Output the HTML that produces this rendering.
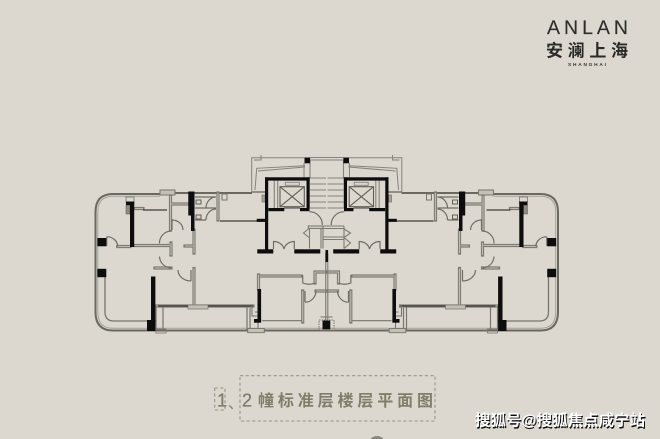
<!DOCTYPE html>
<html><head><meta charset="utf-8">
<style>
html,body{margin:0;padding:0;background:#dcd8cf}
svg{display:block}
text{font-family:"Liberation Sans","Noto Sans CJK SC",sans-serif}
</style></head>
<body>
<svg width="660" height="439" viewBox="0 0 660 439" xmlns="http://www.w3.org/2000/svg">
<defs>
<filter id="b" x="-5%" y="-5%" width="110%" height="110%"><feGaussianBlur stdDeviation="0.3"/></filter>
<g id="half">
  <!-- outer walls -->
  <path d="M327 330.5H113Q95.5 330.5 95.5 312V212Q95.5 194 113 194H160M175 193H252" fill="none" stroke="#6b6960" stroke-width="2"/>
  <path d="M327 328.3H113Q97.8 328.3 97.8 312V212Q97.8 196.3 113 196.3H160" fill="none" stroke="#a5a299" stroke-width="1"/>
  <path d="M252 192H266" stroke="#77756c" stroke-width="1.5"/>
  <path d="M105 277V312Q105 321 114 321H147" fill="none" stroke="#77756c" stroke-width="1.3"/>
  <rect x="160" y="190" width="15" height="5" fill="#c4c0b7" stroke="#77756c" stroke-width="1"/>
  <rect x="156" y="329" width="10" height="4" fill="none" stroke="#77756c" stroke-width=".8"/>
  <!-- interior double walls -->
  <g fill="none" stroke="#7d7b72" stroke-width="3.2" stroke-linecap="square">
    <path d="M170.5 196V230M171 243V255M171 268H155M134 245.5H170M117.7 246.5H130M194 230V253M194 268.5V305M185 246H193M171 204H188M135 208.5H143M218 193V220M258.5 275V289M260 276H301M315 272V283M315 272H326M316 291H326M302.7 291V322M156 306H253"/>
  </g>
  <g fill="none" stroke="#bfbbb2" stroke-width="1.1" stroke-linecap="butt">
    <path d="M170.5 196V230M171 243V255M171 268H155M134 245.5H170M117.7 246.5H130M194 230V253M194 268.5V305M185 246H193M171 204H188M135 208.5H143M218 193V220M258.5 275V289M260 276H301M315 272V283M315 272H326M316 291H326M302.7 291V322M156 306H253"/>
  </g>
  <rect x="188" y="305" width="20" height="4" fill="#c4c0b7" stroke="#7d7b72" stroke-width=".8"/>
  <!-- dark thin glazing -->
  <path d="M143 210H167M220 221H257M158 306H188M208 306H253" stroke="#3f3d38" stroke-width="1.3" fill="none"/>
  <path d="M262 320.7H302M163 307V330M247 307V330M156 306V330M250 308V328" stroke="#77756c" stroke-width="1.2" fill="none"/>
  <rect x="247.7" y="328.5" width="16.6" height="4.2" fill="#c4c0b7" stroke="#77756c" stroke-width=".9"/>
  <path d="M252 306V316H258V328M255 312H258" fill="none" stroke="#77756c" stroke-width="1.1"/>
  <!-- door arcs -->
  <g fill="none" stroke="#6f6d64" stroke-width="1.2">
    <path d="M106.7 237V246M106.7 236.7A11 10 0 0 1 117.7 246M171 231A12 12 0 0 0 159.5 243.5M159.5 256.5A12 12 0 0 0 171 268M172 219V230M172 220A11 10 0 0 1 183 230M191 281A13 11 0 0 1 178 270M191 270V281"/>
    <path d="M216 197A10 11 0 0 0 206 208M216 209A10 11 0 0 0 206 220M195 208H216M195 220H206M195 197H216"/>
    <path d="M302.7 275V283A12 8 0 0 0 315 283M305 302.3A11 11.6 0 0 0 316 291M305 291V302"/>
    <path d="M273.5 249V241.5A10.5 9 0 0 1 284 249M294.3 249V241.5A10.5 9 0 0 0 284 249"/>
    <path d="M309.3 211.7A13 13 0 0 1 322.3 225"/>
  </g>
  <rect x="222" y="194" width="5" height="6" fill="none" stroke="#77756c" stroke-width="1"/>
  <rect x="262" y="195" width="3" height="7" fill="#a5a299" stroke="#77756c" stroke-width=".7"/>
  <rect x="196" y="200" width="5" height="4" fill="none" stroke="#55534c" stroke-width=".9"/>
  <rect x="196" y="215" width="5" height="4" fill="none" stroke="#55534c" stroke-width=".9"/>
  <rect x="126" y="197" width="8" height="5" fill="none" stroke="#77756c" stroke-width=".8"/>
  <rect x="126" y="205" width="4" height="9" fill="#8d8b82" stroke="#55534c" stroke-width=".5"/>
  <rect x="189" y="206" width="4" height="9" fill="#8d8b82"/>
  <!-- canopy -->
  <g fill="none" stroke="#85837a" stroke-width="1">
    <path d="M304.7 157.7H251.7V192M255 190L256.7 168.3L305 165.7M254 160H261V155M258 171L305 167"/>
    <path d="M304 163V178"/>
  </g>
  <!-- stair -->
  <g stroke="#85837a" stroke-width="1.1" fill="none">
    <path d="M310 157.5H327M310 160H327M310 160V178"/>
    <path d="M310 178H326M310 184H326M310 190H326M310 196H326M310 202H326M310 208H326"/>
  </g>
  <!-- elevator -->
  <g fill="none" stroke="#5f5d55" stroke-width="1.1">
    <rect x="280" y="186.7" width="24.3" height="20"/>
    <path d="M280 186.7L304.3 206.7M304.3 186.7L280 206.7"/>
    <path d="M274.3 180V208M277.7 180V208" stroke="#85837a"/>
    <rect x="285.3" y="182.3" width="14" height="3" stroke="#85837a" stroke-width=".9"/>
    <path d="M284 208H300" stroke-width="1.3"/>
  </g>
  <!-- black walls -->
  <g fill="#0d0d0d">
    <rect x="97.3" y="238" width="9" height="8.3"/>
    <rect x="97.3" y="268.8" width="9" height="8.4"/>
    <rect x="130" y="201.5" width="4.2" height="45.5"/>
    <rect x="126" y="201.5" width="8.2" height="3.6"/>
    <rect x="188.3" y="191.5" width="6.2" height="24"/>
    <rect x="191" y="215" width="3.5" height="16"/>
    <rect x="151" y="276.5" width="4.4" height="45.5"/>
    <rect x="147" y="320" width="8.4" height="11"/>
    <rect x="257.5" y="289" width="3.6" height="33"/>
    <rect x="254" y="319" width="7.1" height="3.7"/>
    <rect x="265" y="177.3" width="44.6" height="3.3"/>
    <rect x="265" y="177.3" width="3.2" height="72.5"/>
    <rect x="257.3" y="249.3" width="16" height="4.2"/>
    <rect x="294.3" y="249.3" width="26" height="4.2"/>
    <rect x="306.5" y="177.3" width="3.2" height="31.3"/>
    <rect x="268.3" y="208" width="16" height="3.2"/>
    <rect x="300" y="208" width="9.5" height="3.2"/>
    <rect x="256.7" y="218.8" width="8.5" height="3.1"/>
    <rect x="304.5" y="157.5" width="5.6" height="5.8"/>
  </g>
</g>
</defs>

<rect width="660" height="439" fill="#dcd8cf"/>

<g filter="url(#b)">
  <use href="#half"/>
  <use href="#half" transform="translate(653.5,0) scale(-1,1)"/>
  <!-- centre parts -->
  <g fill="none" stroke="#7d7b72" stroke-width="1.1">
    <path d="M325.7 253V320M327.8 253V320" />
    <rect x="308.3" y="226" width="14.7" height="2.4"/>
    <path d="M309.5 228.4V248.5M321 228.4V248.5M323 226V248.5M344 226V248.5M323 226H344M323 228.5H344M323 237H344M323 239.5H344"/>
    <path d="M309 228.5L303.5 233L309 237.5M344 229L350.5 233L344 237.5L350.5 243L344 248.5"/>
    <rect x="319" y="320" width="15" height="10" stroke-dasharray="1.5 1"/>
    <path d="M320.5 317H332.5"/>
  </g>
  <rect x="325.5" y="250" width="2.6" height="12" fill="#0d0d0d"/>
  <rect x="322.5" y="320.5" width="7.8" height="8.8" fill="#0d0d0d"/>
</g>

<!-- logo -->
<g filter="url(#b)">
  <text x="547" y="34" font-size="19.5" fill="#2e2d2a" stroke="#2e2d2a" stroke-width=".15" textLength="81" lengthAdjust="spacing">ANLAN</text>
  <text x="546" y="56.5" font-size="17" font-weight="700" fill="#2a2926" textLength="82" lengthAdjust="spacing">安澜上海</text>
  <text x="568" y="66" font-size="4.8" font-weight="700" fill="#33322e" textLength="38" lengthAdjust="spacing">SHANGHAI</text>
</g>

<!-- title -->
<g fill="none" stroke="#9a9586" stroke-width="1.1" stroke-dasharray="3.2 2.4">
  <rect x="240" y="375.7" width="195" height="45.3"/>
  <rect x="214.7" y="388" width="10.3" height="22"/>
</g>
<g fill="#827d6b" filter="url(#b)">
  <text x="217" y="406.5" font-size="18" stroke="#827d6b" stroke-width=".3">1</text>
  <text x="228" y="408" font-size="15">、</text>
  <text x="242" y="406.5" font-size="18" stroke="#827d6b" stroke-width=".3">2</text>
  <text x="258" y="406" font-size="16" font-weight="700" textLength="175" lengthAdjust="spacing">幢标准层楼层平面图</text>
</g>

<!-- watermark -->
<text x="476" y="427" font-size="15.4" font-weight="700" fill="#111" textLength="170" lengthAdjust="spacing">搜狐号@搜狐焦点咸宁站</text>
<text x="475" y="425.5" font-size="15.4" font-weight="700" fill="#fff" textLength="170" lengthAdjust="spacing">搜狐号@搜狐焦点咸宁站</text>

<ellipse cx="377" cy="441" rx="7" ry="5" fill="#8a887f"/>
</svg>
</body></html>
